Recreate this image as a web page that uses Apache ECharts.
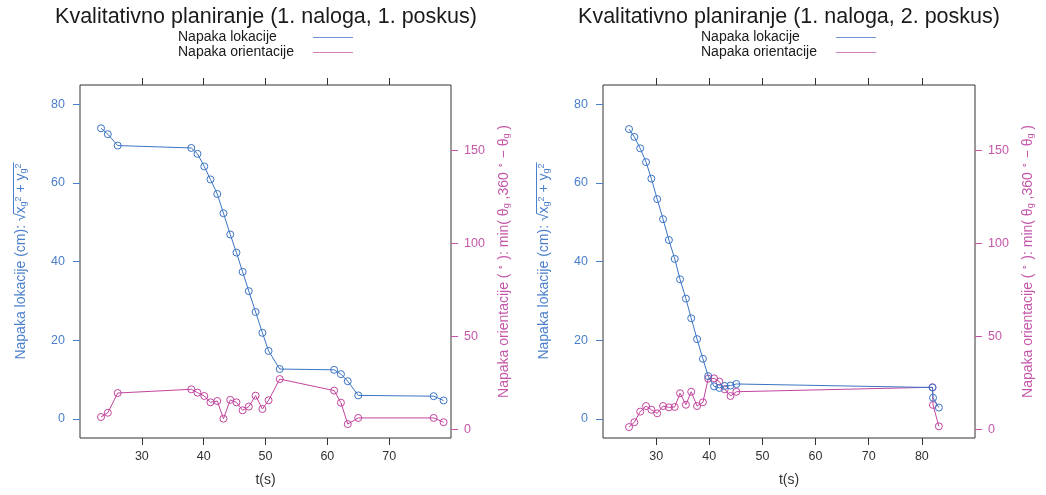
<!DOCTYPE html>
<html><head><meta charset="utf-8">
<script src="https://cdn.jsdelivr.net/npm/echarts@6/dist/echarts.min.js"></script>
<style>html,body{margin:0;padding:0;background:#fff}#c{width:1046px;height:495px}</style>
</head><body><div id="c"></div>
<script>
const titles = ['Kvalitativno planiranje (1. naloga, 1. poskus)', 'Kvalitativno planiranje (1. naloga, 2. poskus)'];
const seriesNames = ['Napaka lokacije', 'Napaka orientacije'];
const xName = 't(s)';

// Panel 1 (1. poskus)
const tL   = [23.4,24.5,26.1,38.0,39.0,40.1,41.1,42.2,43.2,44.3,45.3,46.3,47.3,48.4,49.5,50.5,52.3,61.1,62.2,63.3,65.0,77.2,78.8];
const locL = [73.9,72.4,69.5,68.9,67.4,64.2,60.9,57.2,52.3,46.9,42.3,37.4,32.5,27.2,21.9,17.3,12.7,12.5,11.4,9.6,6.0,5.8,4.7];
const oriL = [6.6,8.9,19.5,21.5,19.7,17.9,14.5,15.2,5.7,15.8,14.5,10.2,12.2,18.1,10.9,15.6,27.0,20.8,14.3,2.8,6.1,6.1,3.8];

// Panel 2 (2. poskus)
const tR   = [24.9,25.9,27.0,28.1,29.1,30.2,31.3,32.4,33.5,34.5,35.6,36.6,37.7,38.8,39.8,40.9,41.9,42.9,44.0,45.1,82.0,82.1,83.2];
const locR = [73.7,71.7,68.8,65.3,61.1,55.9,50.8,45.5,40.7,35.5,30.6,25.6,20.3,15.3,10.9,8.3,7.9,8.4,8.5,8.9,8.0,5.4,2.9];
const oriR = [1.2,3.8,9.5,12.5,10.5,8.6,12.5,11.8,12.0,19.4,13.2,20.2,12.5,14.5,27.2,27.4,25.6,21.5,17.9,20.2,22.6,13.1,1.6];

// Tick labels
const xTicksL = [30,40,50,60,70];
const xTicksR = [30,40,50,60,70,80];
const yTicksLoc = [0,20,40,60,80];
const yTicksOri = [0,50,100,150];

const BLUE = '#3b74c4', MAG = '#c2449e', BLUE_T = '#4a7fcc', MAG_T = '#c455a8', DARK = '#333333';
const FONT = '"Liberation Sans", Arial, Helvetica, sans-serif';

const panels = [
  {left: 80, width: 371, xmin: 20, xmax: 80, xt: xTicksL, t: tL, loc: locL, ori: oriL, title: titles[0], cx: 266},
  {left: 603, width: 372, xmin: 20, xmax: 90, xt: xTicksR, t: tR, loc: locR, ori: oriR, title: titles[1], cx: 789}
];
const TOP = 85, HEIGHT = 353;
const LOC_GAP = 52;

const locPrefix = 'Napaka lokacije (cm): ';
const locName = locPrefix + '{r|√}{v|x}{sub|g}{sup|2}{v| + y}{sub|g}{sup|2}';
const oriName = 'Napaka orientacije ( {sup|∘} ): min( θ{sub|g} ,360 {sup|∘} − θ{sub|g} )';

function richFor(color) {
  return {
    r: {fontSize: 14, color: color, fontFamily: FONT},
    v: {fontSize: 14, color: color, fontFamily: FONT},
    sub: {fontSize: 9, color: color, fontFamily: FONT, verticalAlign: 'bottom'},
    sup: {fontSize: 9, color: color, fontFamily: FONT, verticalAlign: 'top'}
  };
}

// measure text to place the radical's overline
const mctx = document.createElement('canvas').getContext('2d');
function tw(s, size) { mctx.font = size + 'px ' + FONT; return mctx.measureText(s).width; }
const wPrefix = tw(locPrefix, 14), wRad = tw('√', 14);
const wRadicand = tw('x', 14) + tw('g', 9) + tw('2', 9) + tw(' + y', 14) + tw('g', 9) + tw('2', 9);
const wTotal = wPrefix + wRad + wRadicand;

const graphics = [];
panels.forEach(p => {
  const cy = TOP + HEIGHT / 2;
  const yStart = cy + wTotal / 2 - wPrefix - wRad + 0.5;
  const yEnd = cy + wTotal / 2 - wPrefix - wRad - wRadicand - 1;
  const x = p.left - LOC_GAP - 14.5;
  graphics.push({type: 'line', silent: true, shape: {x1: x, y1: yStart, x2: x, y2: yEnd},
    style: {stroke: BLUE_T, lineWidth: 1}});
});

const option = {
  animation: false,
  backgroundColor: '#ffffff',
  title: panels.map(p => ({
    text: p.title, left: p.cx, top: 6, textAlign: 'center', padding: 0,
    textStyle: {fontFamily: FONT, fontSize: 21.5, fontWeight: 'normal', color: '#1a1a1a'}
  })),
  legend: panels.map(p => ({
    orient: 'vertical', left: p.cx - 88, top: 30, padding: 0, itemGap: 0,
    align: 'right', icon: 'rect', itemWidth: 40, itemHeight: 1, selectedMode: false,
    formatter: '{a|{name}}',
    textStyle: {fontFamily: FONT, fontSize: 14, color: '#1a1a1a', lineHeight: 15,
      rich: {a: {width: 130, align: 'left', fontFamily: FONT, fontSize: 14, color: '#1a1a1a', lineHeight: 15}}},
    data: [
      {name: seriesNames[0], itemStyle: {color: '#6f95d2', borderWidth: 0}},
      {name: seriesNames[1], itemStyle: {color: '#d080bc', borderWidth: 0}}
    ]
  })),
  grid: panels.map(p => ({
    left: p.left, top: TOP, width: p.width, height: HEIGHT,
    show: true, borderColor: DARK, borderWidth: 1, backgroundColor: 'transparent', containLabel: false
  })),
  graphic: graphics,
  xAxis: [],
  yAxis: [],
  series: []
};

panels.forEach((p, i) => {
  option.xAxis.push({
    gridIndex: i, type: 'value', position: 'bottom', min: p.xmin, max: p.xmax,
    axisLine: {show: false, onZero: false}, splitLine: {show: false},
    axisTick: {show: true, length: 7, lineStyle: {color: DARK}, customValues: p.xt},
    axisLabel: {show: true, customValues: p.xt, color: DARK, fontSize: 12.5, fontFamily: FONT, margin: 12},
    name: xName, nameLocation: 'middle', nameGap: 35,
    nameTextStyle: {fontFamily: FONT, fontSize: 14, color: DARK}
  });
  option.xAxis.push({
    gridIndex: i, type: 'value', position: 'top', min: p.xmin, max: p.xmax,
    axisLine: {show: false, onZero: false}, splitLine: {show: false},
    axisTick: {show: true, length: 7, lineStyle: {color: DARK}, customValues: p.xt},
    axisLabel: {show: false}
  });
  option.yAxis.push({
    gridIndex: i, type: 'value', position: 'left', min: -4.83, max: 84.9,
    axisLine: {show: false, onZero: false}, splitLine: {show: false},
    axisTick: {show: true, length: 7, lineStyle: {color: BLUE_T}, customValues: yTicksLoc},
    axisLabel: {show: true, customValues: yTicksLoc, color: BLUE_T, fontSize: 12.5, fontFamily: FONT, margin: 15},
    name: locName, nameLocation: 'middle', nameRotate: 90, nameGap: LOC_GAP,
    nameTextStyle: {fontFamily: FONT, fontSize: 14, color: BLUE_T, rich: richFor(BLUE_T)}
  });
  option.yAxis.push({
    gridIndex: i, type: 'value', position: 'right', min: -4.68, max: 185.1,
    axisLine: {show: false, onZero: false}, splitLine: {show: false},
    axisTick: {show: true, length: 7, lineStyle: {color: MAG_T}, customValues: yTicksOri},
    axisLabel: {show: true, customValues: yTicksOri, color: MAG_T, fontSize: 12.5, fontFamily: FONT, margin: 13},
    name: oriName, nameLocation: 'middle', nameRotate: 90, nameGap: 46,
    nameTextStyle: {fontFamily: FONT, fontSize: 14, color: MAG_T, rich: richFor(MAG_T)}
  });
  option.series.push({
    name: seriesNames[0], type: 'line', xAxisIndex: 2 * i, yAxisIndex: 2 * i,
    data: p.t.map((x, j) => [x, p.loc[j]]),
    symbol: 'circle', symbolSize: 7,
    itemStyle: {color: 'rgba(0,0,0,0)', borderColor: BLUE, borderWidth: 1},
    lineStyle: {color: BLUE, width: 1},
    emphasis: {disabled: true}, z: 3
  });
  option.series.push({
    name: seriesNames[1], type: 'line', xAxisIndex: 2 * i, yAxisIndex: 2 * i + 1,
    data: p.t.map((x, j) => [x, p.ori[j]]),
    symbol: 'circle', symbolSize: 7,
    itemStyle: {color: 'rgba(0,0,0,0)', borderColor: MAG, borderWidth: 1},
    lineStyle: {color: MAG, width: 1},
    emphasis: {disabled: true}, z: 2
  });
});

const chart = echarts.init(document.getElementById('c'), null, {renderer: 'canvas'});
chart.setOption(option);
</script></body></html>
